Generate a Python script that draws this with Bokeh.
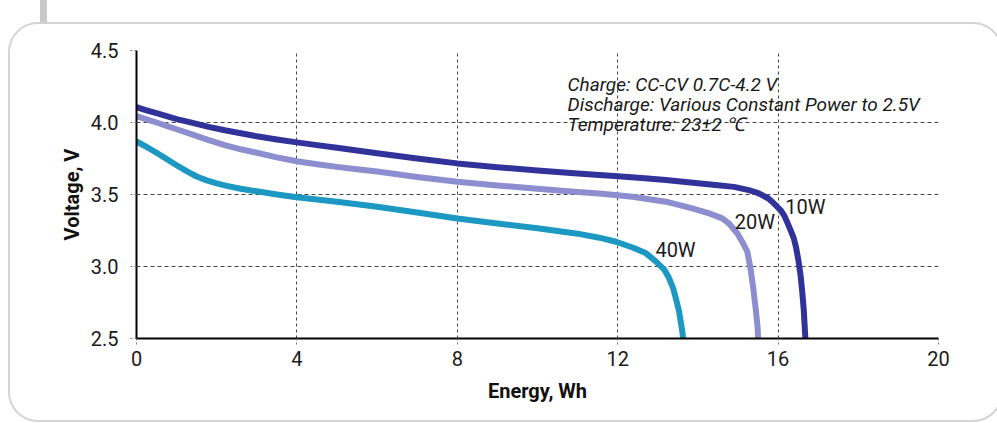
from bokeh.plotting import figure
from bokeh.models import Range1d, FixedTicker, InlineStyleSheet
from bokeh.core.properties import value
from bokeh.embed import file_html
from bokeh.resources import INLINE

# ---- data ----
e_10w = [0, 0.25, 0.5, 0.75, 1.0, 1.4, 1.8, 2.2, 2.6, 3.0, 3.5, 4.0, 4.5, 5.0, 5.5, 6.0,
         7.0, 8.0, 9.0, 10.0, 11.0, 12.0, 12.6, 13.2, 14.0, 14.5, 14.9, 15.27, 15.45,
         15.6, 15.75, 15.85, 15.95, 16.06, 16.15, 16.22, 16.3, 16.39, 16.45, 16.51,
         16.56, 16.6, 16.64, 16.66, 16.68]
v_10w = [4.106, 4.085, 4.065, 4.045, 4.024, 3.997, 3.97, 3.946, 3.925, 3.904, 3.882,
         3.862, 3.843, 3.825, 3.805, 3.786, 3.75, 3.716, 3.69, 3.667, 3.646, 3.627,
         3.614, 3.60, 3.578, 3.564, 3.553, 3.53, 3.515, 3.496, 3.474, 3.45, 3.423,
         3.392, 3.355, 3.312, 3.26, 3.197, 3.13, 3.036, 2.94, 2.83, 2.70, 2.60, 2.5]

e_20w = [0, 0.25, 0.5, 0.75, 1.0, 1.4, 1.8, 2.2, 2.6, 3.0, 3.5, 4.0, 4.5, 5.0, 5.5, 6.0,
         7.0, 8.0, 9.0, 10.0, 11.0, 11.54, 12.37, 13.2, 13.86, 14.28, 14.61, 14.77,
         14.98, 15.1, 15.23, 15.31, 15.38, 15.44, 15.49, 15.5]
v_20w = [4.044, 4.022, 4.0, 3.977, 3.953, 3.916, 3.878, 3.843, 3.814, 3.79, 3.758,
         3.731, 3.71, 3.692, 3.675, 3.66, 3.622, 3.588, 3.563, 3.54, 3.518, 3.507,
         3.484, 3.45, 3.403, 3.369, 3.334, 3.30, 3.231, 3.174, 3.105, 2.99, 2.85, 2.71,
         2.576, 2.5]

e_40w = [0, 0.25, 0.5, 0.75, 1.0, 1.25, 1.5, 1.75, 2.0, 2.25, 2.6, 3.0, 3.5, 4.0, 5.0,
         6.0, 7.0, 8.0, 9.0, 10.0, 11.0, 11.54, 11.96, 12.37, 12.7, 12.95, 13.16, 13.28,
         13.38, 13.45, 13.53, 13.57, 13.61, 13.63]
v_40w = [3.868, 3.83, 3.79, 3.747, 3.703, 3.662, 3.625, 3.598, 3.577, 3.56, 3.54,
         3.522, 3.50, 3.481, 3.45, 3.415, 3.375, 3.333, 3.298, 3.265, 3.228, 3.20,
         3.172, 3.132, 3.093, 3.036, 2.979, 2.92, 2.852, 2.78, 2.69, 2.62, 2.553, 2.5]

series_names = ["10W", "20W", "40W"]
label_x = [16.18, 14.92, 12.94]
label_y = [3.415, 3.312, 3.117]

x_ticks = [0, 4, 8, 12, 16, 20]
y_ticks = [2.5, 3.0, 3.5, 4.0, 4.5]

notes = ["Charge: CC-CV 0.7C-4.2 V",
         "Discharge: Various Constant Power to 2.5V",
         "Temperature: 23\u00b12 \u2103"]
notes_x = 10.75
notes_y = [4.262, 4.125, 3.986]

FONT = "Roboto"
colors = ["#32339a", "#8c8ed0", "#1c98c2"]

frame_css = InlineStyleSheet(css="""
:host { position: relative; overflow: hidden; }
:host::before {
  content: ""; position: absolute; left: 8px; top: 22px;
  width: 995px; height: 400px; box-sizing: border-box;
  border: 2px solid #d4d4d4; border-radius: 30px; pointer-events: none;
}
:host::after {
  content: ""; position: absolute; left: 40px; top: 0px;
  width: 7px; height: 22px; background: #c9c9c9; pointer-events: none;
}
""")

p = figure(width=997, height=423, output_backend="svg", toolbar_location=None,
           x_range=Range1d(0, 20), y_range=Range1d(2.5, 4.5),
           min_border_left=136, min_border_right=59, min_border_top=50,
           min_border_bottom=85, stylesheets=[frame_css])
p.outline_line_color = None
p.background_fill_color = "white"
p.border_fill_color = None

for xs, ys, c in zip([e_10w, e_20w, e_40w], [v_10w, v_20w, v_40w], colors):
    p.line(xs, ys, line_color=c, line_width=6, line_join="round", line_cap="round")

p.text(x=label_x, y=label_y, text=series_names, text_font=value(FONT),
       text_font_size="20px", text_color="#1a1a1a", text_align="left",
       text_baseline="middle")

p.text(x=[notes_x] * 3, y=notes_y, text=notes, text_font=value(FONT),
       text_font_size="19px", text_font_style="italic", text_color="#1a1a1a",
       text_align="left", text_baseline="middle")

for ax in (p.xaxis[0], p.yaxis[0]):
    ax.axis_line_color = "black"
    ax.axis_line_width = 2
    ax.major_tick_line_color = "#777777"
    ax.major_tick_line_dash = "2 2"
    ax.major_tick_in = 0
    ax.major_tick_out = 6
    ax.minor_tick_line_color = None
    ax.major_label_text_font = FONT
    ax.major_label_text_font_size = "20px"
    ax.major_label_text_color = "#1a1a1a"
    ax.axis_label_text_font = FONT
    ax.axis_label_text_font_size = "20px"
    ax.axis_label_text_font_style = "bold"
    ax.axis_label_text_color = "#111111"

p.xaxis.ticker = FixedTicker(ticks=x_ticks)
p.yaxis.ticker = FixedTicker(ticks=y_ticks)
p.yaxis.major_label_overrides = {t: f"{t:.1f}" for t in y_ticks}
p.xaxis.axis_label = "Energy, Wh"
p.yaxis.axis_label = "Voltage, V"
p.yaxis.major_label_standoff = 12
p.xaxis.major_label_standoff = 6
p.yaxis.axis_label_standoff = 4
p.xaxis.axis_label_standoff = 10

p.xgrid.grid_line_color = "#444444"
p.xgrid.grid_line_dash = "3 3"
p.xgrid.grid_line_width = 1
p.ygrid.grid_line_color = "#444444"
p.ygrid.grid_line_dash = "4 3"
p.ygrid.grid_line_width = 1

open("out.html", "w").write(file_html(p, INLINE))
